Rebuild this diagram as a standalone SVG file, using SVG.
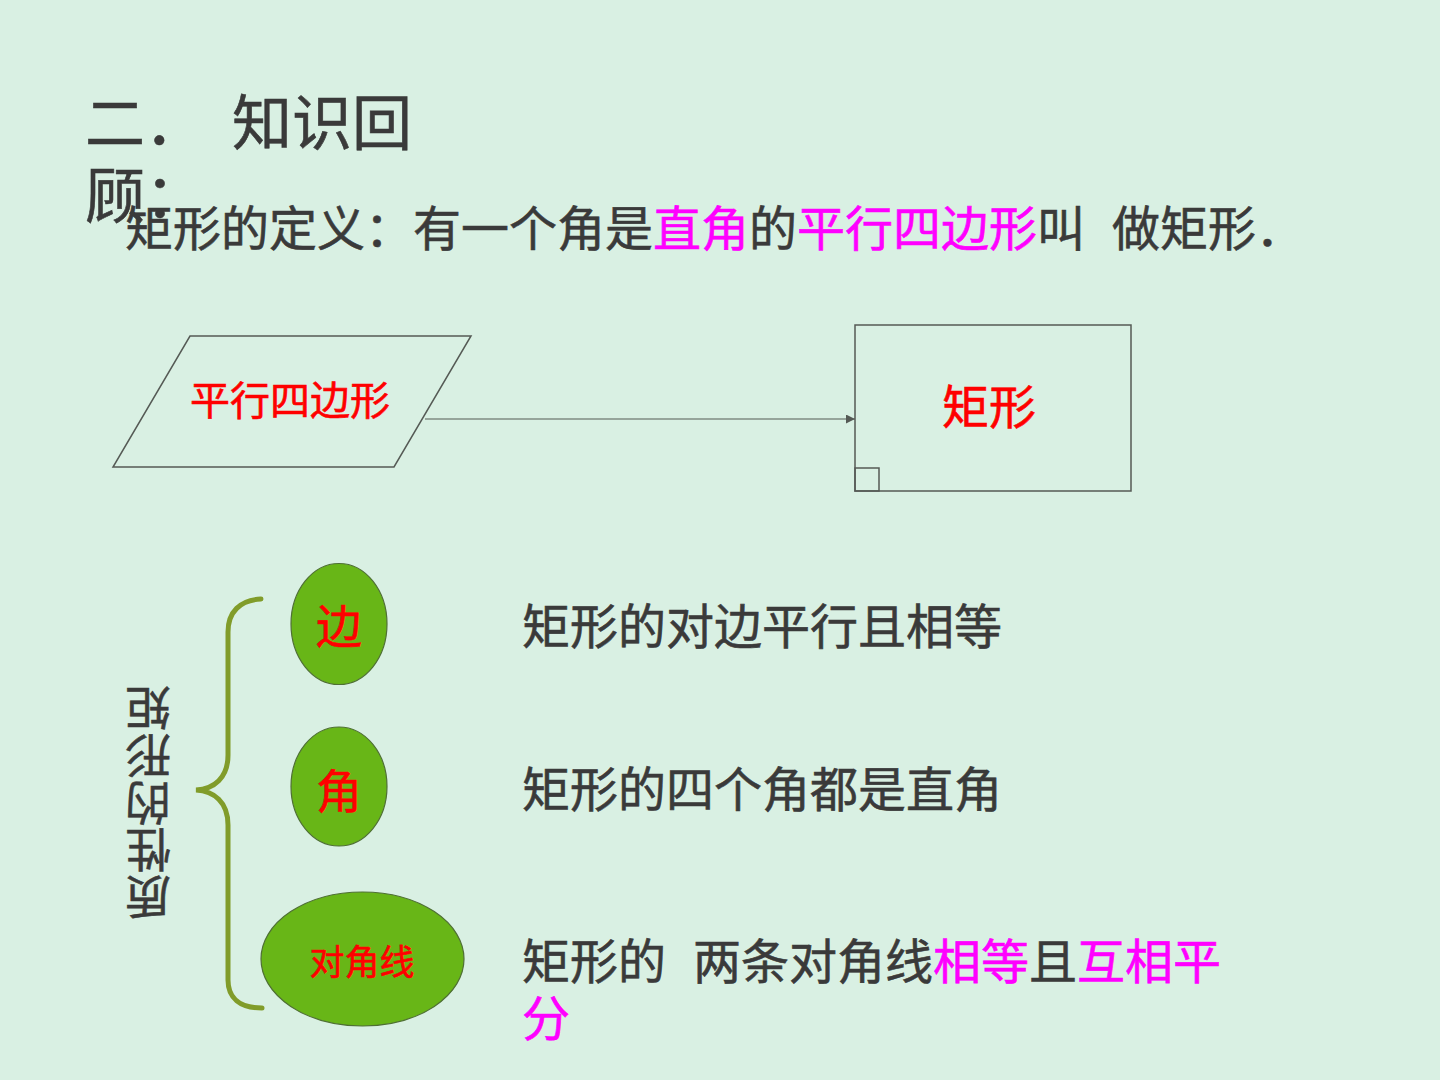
<svg xmlns="http://www.w3.org/2000/svg" width="1440" height="1080" viewBox="0 0 1440 1080">
<style>
text{font-family:"Noto Sans CJK SC","Noto Sans",sans-serif;stroke-width:0.6;}
.dk{fill:#3a3a3a;stroke:#3a3a3a;}
.mg{fill:#ff00ff;stroke:#ff00ff;}
.rd{fill:#ff0000;stroke:#ff0000;}
.shape{fill:none;stroke:#555a55;stroke-width:1.5;}
.oval{fill:#68b617;stroke:#4f7034;stroke-width:1.2;}
.brace{fill:none;stroke:#819c2a;stroke-width:5;stroke-linecap:round;}
</style>
<defs>
<marker id="arr" viewBox="0 0 10 10" refX="10" refY="5" markerWidth="9" markerHeight="9" markerUnits="userSpaceOnUse" orient="auto">
<path d="M0,0 L10,5 L0,10 Z" fill="#555a55"/>
</marker>
</defs>
<rect x="0" y="0" width="1440" height="1080" fill="#d9f0e3"/>

<g id="title">
<text class="dk" font-size="60" x="85" y="145">二．</text>
<text class="dk" font-size="60" x="232" y="145">知识回</text>
<text class="dk" font-size="60" x="85" y="218">顾：</text>
</g>

<g id="definition">
<text font-size="48" y="246"><tspan class="dk" x="125">矩形的定义：有一个角是</tspan><tspan class="mg">直角</tspan><tspan class="dk">的</tspan><tspan class="mg">平行四边形</tspan><tspan class="dk">叫</tspan><tspan class="dk" x="1112">做矩形．</tspan></text>
</g>

<g id="node-parallelogram">
<polygon class="shape" points="190,336 471,336 394,467 113,467"/>
<text class="rd" font-size="40" x="290" y="415" text-anchor="middle">平行四边形</text>
</g>

<g id="node-rectangle">
<rect class="shape" x="855" y="325" width="276" height="166"/>
<rect class="shape" x="855" y="468" width="24" height="23"/>
<text class="rd" font-size="47" x="989" y="424" text-anchor="middle">矩形</text>
</g>

<g id="connectors">
<line x1="425" y1="419" x2="855" y2="419" stroke="#555a55" stroke-width="1.2" marker-end="url(#arr)"/>
</g>

<g id="brace">
<path class="brace" d="M261,599 C240,600 228,612 228,632 L228,755 C228,778 214,789 196,790 C214,791 228,802 228,825 L228,980 C228,998 240,1008 262,1008"/>
</g>

<g id="label-vertical">
<text class="dk" font-size="46" x="148" y="726" text-anchor="middle" transform="rotate(180 148 708.5)">矩</text>
<text class="dk" font-size="46" x="148" y="773.5" text-anchor="middle" transform="rotate(180 148 756)">形</text>
<text class="dk" font-size="46" x="148" y="820.5" text-anchor="middle" transform="rotate(180 148 803)">的</text>
<text class="dk" font-size="46" x="148" y="867.5" text-anchor="middle" transform="rotate(180 148 850)">性</text>
<text class="dk" font-size="46" x="148" y="914.5" text-anchor="middle" transform="rotate(180 148 897)">质</text>
</g>

<g id="node-side">
<ellipse class="oval" cx="339" cy="624" rx="48" ry="60.5"/>
<text class="rd" font-size="46" x="339" y="643" text-anchor="middle">边</text>
</g>

<g id="node-angle">
<ellipse class="oval" cx="339" cy="786.5" rx="48" ry="59.5"/>
<text class="rd" font-size="46" x="339" y="808" text-anchor="middle">角</text>
</g>

<g id="node-diagonal">
<ellipse class="oval" cx="362.5" cy="959" rx="101.5" ry="67"/>
<text class="rd" font-size="35" x="362" y="975" text-anchor="middle">对角线</text>
</g>

<g id="prop-side">
<text class="dk" font-size="48" x="522" y="644">矩形的对边平行且相等</text>
</g>
<g id="prop-angle">
<text class="dk" font-size="48" x="522" y="807">矩形的四个角都是直角</text>
</g>
<g id="prop-diagonal">
<text font-size="48" y="979"><tspan class="dk" x="522">矩形的</tspan><tspan class="dk" x="693">两条对角线</tspan><tspan class="mg">相等</tspan><tspan class="dk">且</tspan><tspan class="mg">互相平</tspan></text>
<text class="mg" font-size="48" x="522" y="1036">分</text>
</g>
</svg>
